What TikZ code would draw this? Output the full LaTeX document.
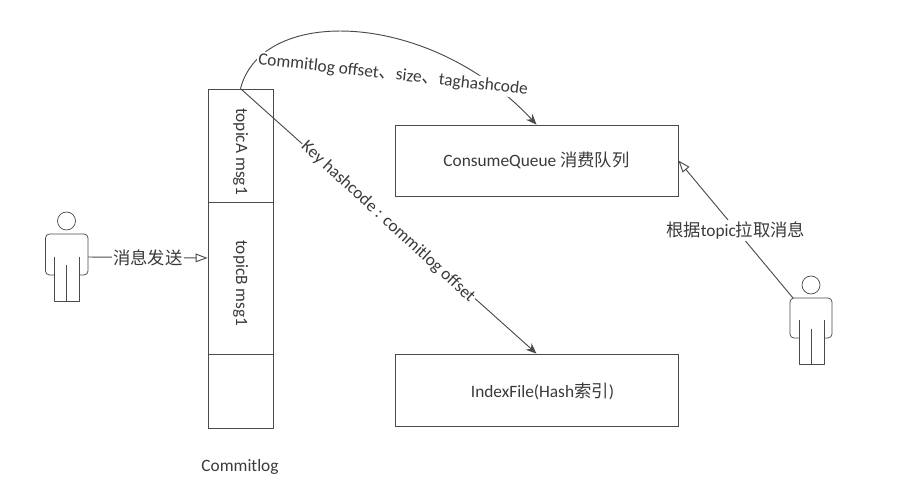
\documentclass[tikz,border=0pt]{standalone}
\usepackage{fontspec}
\setmainfont{Carlito}
\newfontfamily\cjk{Noto Sans CJK SC}
\usetikzlibrary{arrows.meta}
\definecolor{ink}{HTML}{3A3A3A}
\definecolor{linec}{HTML}{4A4A4A}
\tikzset{
  box/.style={draw=linec,line width=0.6pt,minimum width=#1,inner sep=0pt,text=ink,font=\fontsize{13}{15}\selectfont},
  box/.default=48.75pt,
  conn/.style={draw=linec,line width=0.7pt},
  lab/.style={fill=white,inner sep=1pt,text=ink,font=\fontsize{13}{15}\selectfont},
  openarrow/.style={-{Triangle[open,length=9pt,width=6.5pt,fill=white]}},
  fillarrow/.style={-{Stealth[length=8pt,width=6.5pt]}},
  actor/.style={draw=linec,line width=0.55pt,line join=round},
}
\begin{document}
\begin{tikzpicture}[x=0.75pt,y=-0.75pt]
\path[use as bounding box] (0,0) rectangle (908,491);
% commitlog column
\node[box,minimum height=84.75pt] (ta) at (240.5,145.5) {\raisebox{-4.5pt}[\height][\depth]{\rotatebox{-90}{topicA msg1}}};
\node[box,minimum height=114pt] (tb) at (240.5,278) {\raisebox{-4pt}[\height][\depth]{\rotatebox{-90}{topicB msg1}}};
\node[box,minimum height=55.5pt] (tc) at (240.5,391) {};
\node[lab,fill=none] (cl) at (240,467) {Commitlog};
% stores
\node[box=212.25pt,minimum height=53.25pt] (cq) at (536.5,160.5) {ConsumeQueue {\cjk 消费队列}};
\node[box=212.25pt,minimum height=54pt] (ix) at (536.5,390) {\hspace*{9pt}\raisebox{-1pt}[\height][\depth]{IndexFile(Hash{\cjk 索引})}};
% left actor
\node[circle,actor,minimum size=13.5pt,inner sep=0pt] (h1) at (66.5,221) {};
\draw[actor] (54,257) -- (54,301) -- (79,301) -- (79,257) (66.5,265) -- (66.5,301);
\draw[actor,rounded corners=3pt] (54,275) -- (45.5,275) -- (45.5,234) -- (88,234) -- (88,275) -- (79,275);
\coordinate (a1) at (88,257);
% right actor
\node[circle,actor,minimum size=13.5pt,inner sep=0pt] (h2) at (811,285) {};
\draw[actor] (799,320) -- (799,364) -- (824,364) -- (824,320) (811.5,329) -- (811.5,364);
\draw[actor,rounded corners=3pt] (799,338) -- (790,338) -- (790,298) -- (832,298) -- (832,338) -- (824,338);
\coordinate (a2) at (793,298);
% connectors
\draw[conn,openarrow] (a1) -- (tb.west |- 0,258) node[lab,pos=0.5] (l1) {\cjk 消息发送};
\draw[conn,fillarrow] (ta.north) .. controls (262,5) and (430,10) .. (cq.north);
\node[lab,rotate=-6.4] (l2) at (393,75) {Commitlog offset{\cjk 、}size{\cjk 、}taghashcode};
\draw[conn,fillarrow] (ta.north) -- (ix.north);
\node[lab,rotate=-42.6] (l3) at (388,222) {Key hashcode : commitlog offset};
\draw[conn,openarrow] (a2) -- (cq.east) node[lab,pos=0.5,yshift=-1pt] (l4) {{\cjk 根据}topic{\cjk 拉取消息}};
\end{tikzpicture}
\end{document}
